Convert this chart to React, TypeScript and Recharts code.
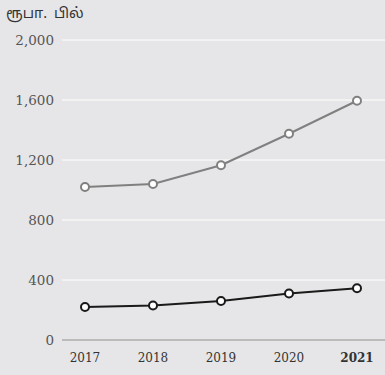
import { LineChart, Line, XAxis, YAxis, CartesianGrid } from "recharts";

const years = ["2017", "2018", "2019", "2020", "2021"];
const upperSeries = [1020, 1040, 1165, 1375, 1595];
const lowerSeries = [220, 230, 260, 310, 345];
const yTicks = [0, 400, 800, 1200, 1600, 2000];
const unitLabel = "ரூபா. பில்";

const data = years.map((year, i) => ({ year, upper: upperSeries[i], lower: lowerSeries[i] }));

const FONT = "'DejaVu Serif', serif";

const YearTick = (props: any) => {
    const { x, y, payload } = props;
    const last = payload.value === years[years.length - 1];
    return (
        <text x={x} y={y} dy={10} textAnchor="middle" fill="#333"
            style={{ fontFamily: FONT, fontSize: 12, fontWeight: last ? 700 : 400 }}>
            {payload.value}
        </text>
    );
};

export default function App() {
    return (
        <div style={{ position: "absolute", left: 0, top: 0, width: 385, height: 375, background: "#e6e6e8" }}>
            <div style={{
                position: "absolute", left: 6, top: 5, fontSize: 14.5, color: "#333",
                fontFamily: "'Noto Sans Tamil', 'Noto Sans', sans-serif", wordSpacing: 3,
            }}>{unitLabel}</div>
            <LineChart width={385} height={375} data={data} margin={{ top: 40, right: 0, bottom: 5, left: 0 }}>
                <CartesianGrid horizontal vertical={false} stroke="#ffffff" strokeWidth={1} />
                <XAxis dataKey="year" height={30} tickLine={false} stroke="#a9a9a9" strokeWidth={1.5}
                    padding={{ left: 23, right: 28 }} tick={<YearTick />} tickMargin={6} />
                <YAxis width={62} domain={[0, 2000]} ticks={yTicks} axisLine={false} tickLine={false}
                    tickSize={0} tickMargin={8} tickFormatter={(v) => v.toLocaleString("en-US")}
                    tick={{ fill: "#555", fontSize: 13.5, fontFamily: FONT, fontWeight: 300 }} />
                <Line dataKey="upper" stroke="#808080" strokeWidth={2} isAnimationActive={false}
                    dot={{ r: 4, fill: "#fff", stroke: "#808080", strokeWidth: 2 }} />
                <Line dataKey="lower" stroke="#1a1a1a" strokeWidth={2} isAnimationActive={false}
                    dot={{ r: 4, fill: "#fff", stroke: "#1a1a1a", strokeWidth: 2 }} />
            </LineChart>
        </div>
    );
}
